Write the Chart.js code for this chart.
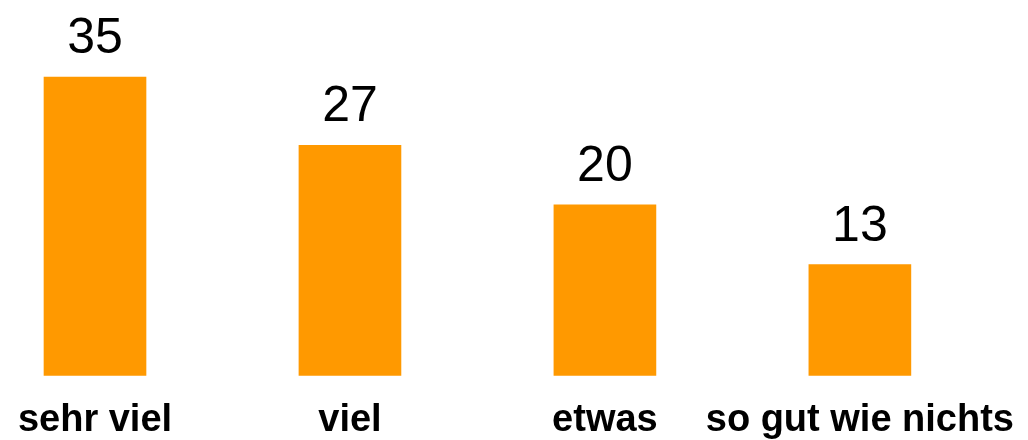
<!DOCTYPE html>
<html>
<head>
<meta charset="utf-8">
<script src="https://cdn.jsdelivr.net/npm/chart.js@4/dist/chart.umd.min.js"></script>
<style>
    html, body { margin: 0; padding: 0; background: #fff; }
    #wrap { width: 1028px; height: 440px; }
</style>
</head>
<body>
<div id="wrap"><canvas id="chart" width="1028" height="440"></canvas></div>
<script>
// Answer categories and share per answer
const categories = ['sehr viel', 'viel', 'etwas', 'so gut wie nichts'];
const values = [35, 27, 20, 13];

const barColor = '#ff9900';

// Writes each bar's value above it
const valueLabels = {
    id: 'valueLabels',
    afterDatasetsDraw(chart) {
        const ctx = chart.ctx;
        const meta = chart.getDatasetMeta(0);
        ctx.save();
        ctx.font = '50px "Liberation Sans", Arial, sans-serif';
        ctx.fillStyle = '#000';
        ctx.textAlign = 'center';
        ctx.textBaseline = 'alphabetic';
        meta.data.forEach((bar, i) => {
            ctx.fillText(String(values[i]), bar.x, bar.y - 24);
        });
        ctx.restore();
    }
};

new Chart(document.getElementById('chart'), {
    type: 'bar',
    data: {
        labels: categories,
        datasets: [{
            data: values,
            backgroundColor: barColor,
            borderWidth: 0,
            barThickness: 102,
            clip: false
        }]
    },
    options: {
        responsive: false,
        animation: false,
        layout: {
            padding: { top: 77, left: 95, right: 166, bottom: -17 }
        },
        plugins: {
            legend: { display: false },
            tooltip: { enabled: false }
        },
        scales: {
            x: {
                offset: false,
                grid: { display: false },
                border: { display: false },
                ticks: {
                    color: '#000',
                    padding: 14,
                    maxRotation: 0,
                    autoSkip: false,
                    font: { family: '"Liberation Sans", Arial, sans-serif', size: 38, weight: 'bold' }
                }
            },
            y: {
                display: false,
                min: 0,
                max: 35
            }
        }
    },
    plugins: [valueLabels]
});
</script>
</body>
</html>
